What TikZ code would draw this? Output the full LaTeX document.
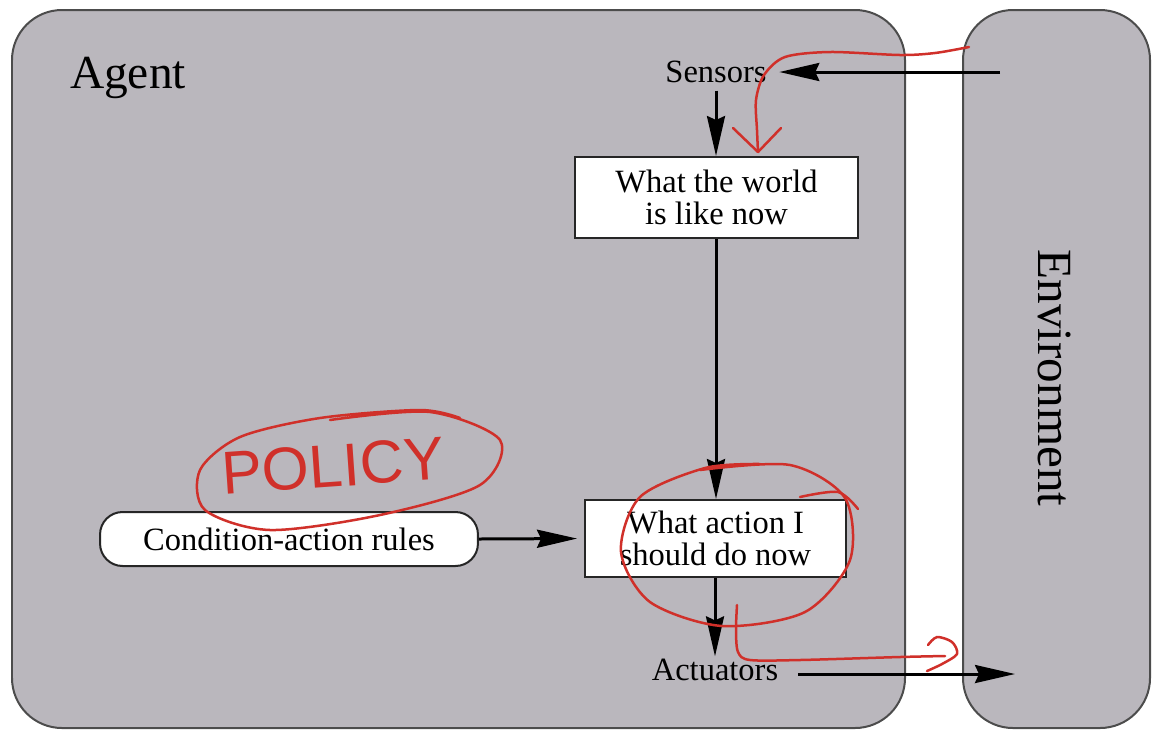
\documentclass[tikz,border=0pt]{standalone}
\usepackage{fontspec}
\setmainfont{Liberation Serif}
\newfontfamily\handfont{Liberation Sans}
\usetikzlibrary{arrows.meta,positioning}
\definecolor{panelgray}{RGB}{186,183,189}
\definecolor{inkred}{RGB}{208,48,42}

\begin{document}
\begin{tikzpicture}[x=0.02cm,y=-0.02cm,line width=0.04cm,
    panel/.style={draw=black!70,fill=panelgray,rounded corners=1cm},
    box/.style={draw=black!85,fill=white,align=center,inner sep=0pt,font=\fontsize{18.5}{18.5}\selectfont},
    lbl/.style={font=\fontsize{18.5}{18.5}\selectfont,inner sep=1pt},
    flow/.style={line width=0.06cm,-{Stealth[length=0.8cm,width=0.36cm,inset=0.08cm]}},
    ink/.style={inkred,line width=0.05cm,line cap=round,line join=round}]
    \useasboundingbox (0,0) rectangle (1156,731);
    \draw [panel] (12,10) rectangle (905,728);
    \draw [panel] (963,10) rectangle (1150,728);
    \node [font=\fontsize{27}{30}\selectfont,anchor=west,inner sep=0pt] (agent) at (69,78) {Agent};
    \node [font=\fontsize{28}{30}\selectfont,rotate=-90] (env) at (1055,378) {Environment};
    \node [lbl] (sensors) at (716,72) {Sensors};
    \node [box,minimum width=5.66cm,minimum height=1.62cm] (world) at (716.5,197.5) {What the world\\is like now};
    \node [box,minimum width=5.22cm,minimum height=1.54cm] (action) at (715.5,538.5) {What action I\\should do now};
    \node [box,rounded corners=0.45cm,minimum width=7.56cm,minimum height=1.08cm] (rules) at (289,539) {Condition-action rules};
    \node [lbl] (actuators) at (715,670) {Actuators};
    \coordinate (envin) at (1000,72);
    \coordinate (envout) at (1015,674);
    \draw [flow,shorten >=0.2cm] (envin) -- (sensors.east);
    \draw [flow,shorten <=0.1cm] (sensors.south) -- (sensors.south |- world.north);
    \draw [flow] (world.south -| sensors.south) -- (sensors.south |- action.north);
    \draw [flow,shorten >=0.14cm] (rules.east) -- (action.west);
    \draw [flow] (action.south -| actuators.north) -- (actuators.north);
    \draw [flow,shorten <=0.35cm] (actuators.east |- envout) -- (envout);
    \draw [ink] plot [smooth] coordinates {(969,47) (935,53) (900,55) (830,52) (785,57) (764,75) (756,100) (757,130) (758,152)};
    \draw [ink] (733,128) -- (758,152) -- (781,128);
    \node [inkred,font=\handfont\fontsize{34.5}{36}\selectfont,rotate=4,inner sep=0pt] (policy) at (333,466) {POLICY};
    \draw [ink] plot [smooth] coordinates {(330,420) (430,412) (500,440) (480,485) (380,515) (270,530) (205,510) (200,470) (240,437) (320,418) (420,410) (460,418)};
    \draw [ink] plot [smooth] coordinates {(700,470) (790,465) (845,498) (850,560) (805,612) (722,626) (650,602) (621,552) (640,497) (705,468) (760,464)};
    \draw [ink] plot [smooth] coordinates {(800,497) (838,492) (858,509)};
    \draw [ink] plot [smooth] coordinates {(737,605) (736,630) (738,652) (750,660) (800,660) (900,657) (945,656)};
    \draw [ink] plot [smooth] coordinates {(928,645) (937,637) (952,642) (957,654) (942,664) (927,671)};
\end{tikzpicture}
\end{document}
